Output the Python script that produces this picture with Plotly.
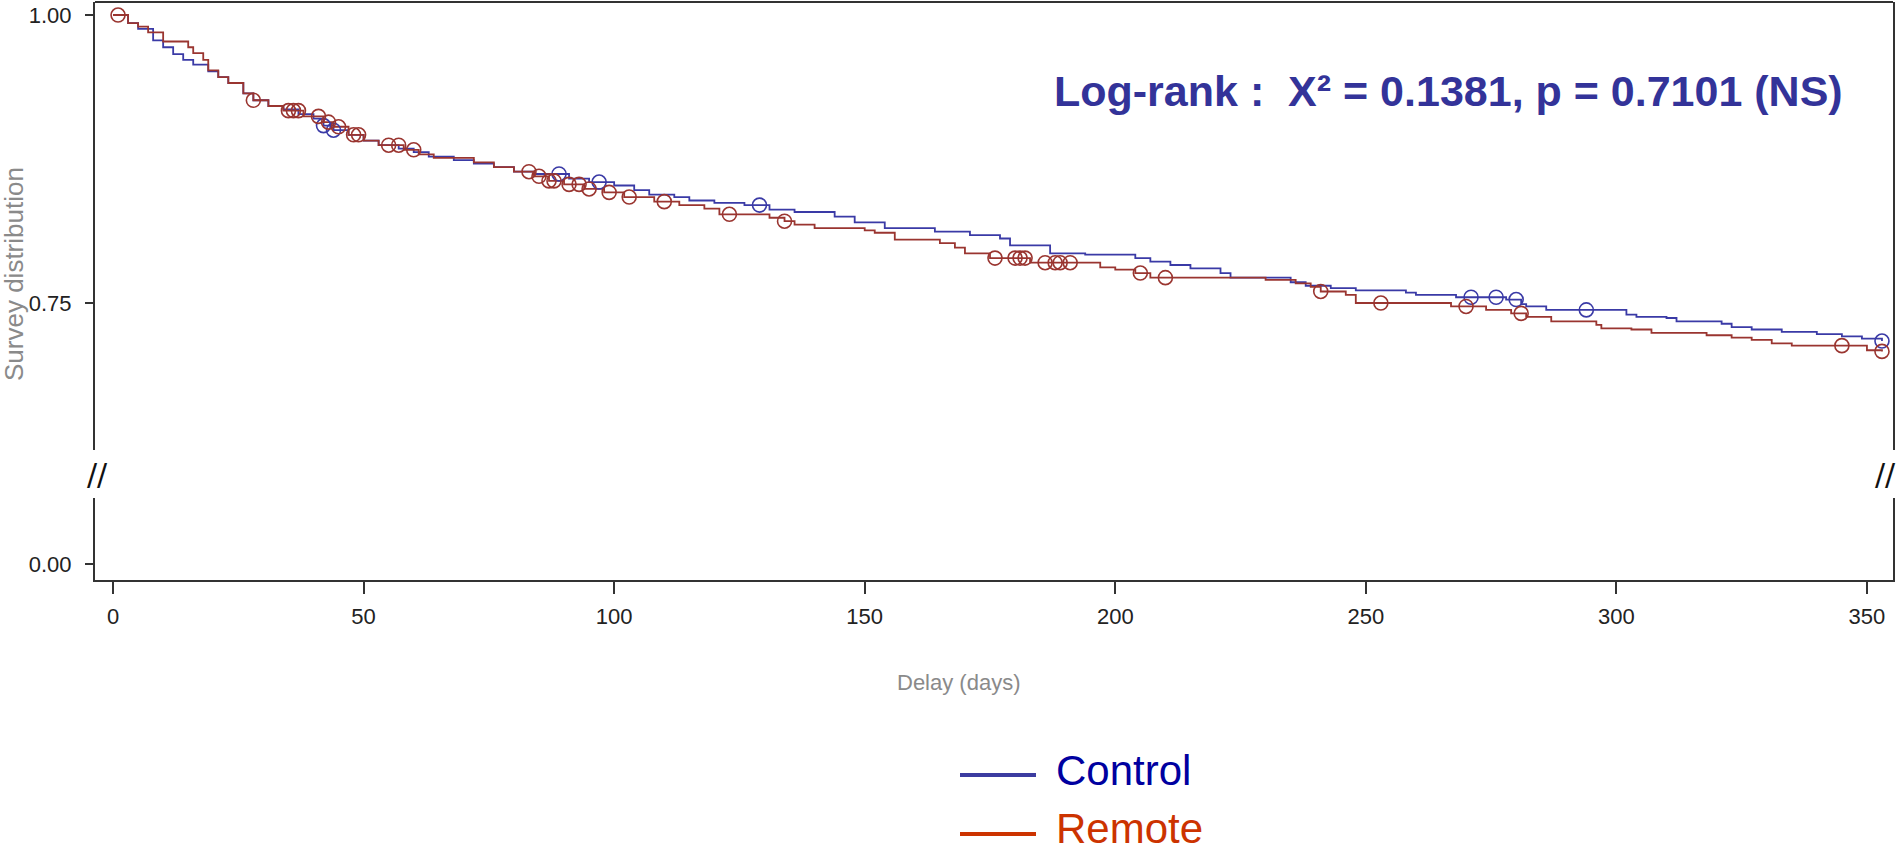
import numpy as np
import plotly.graph_objects as go

# ---------------- data ----------------
control_t = [0, 3, 5, 8, 10, 12, 14, 16, 19, 21, 23, 26, 28, 31, 34, 37, 40, 42, 44, 47, 50, 53, 57,
             60, 63, 68, 72, 76, 80, 84, 91, 95, 100, 104, 107, 112, 115, 120, 126, 131, 136, 144,
             148, 154, 164, 171, 177, 179, 187, 194, 204, 207, 211, 215, 221, 223, 235, 238, 243,
             248, 258, 260, 268, 278, 281, 282, 286, 302, 304, 310, 312, 321, 323, 327, 333, 340,
             345, 349, 353]
control_s = [1.000, 0.993, 0.988, 0.978, 0.972, 0.966, 0.961, 0.957, 0.951, 0.946, 0.941, 0.932,
             0.926, 0.921, 0.918, 0.914, 0.910, 0.904, 0.900, 0.896, 0.891, 0.887, 0.884, 0.881,
             0.877, 0.874, 0.871, 0.868, 0.864, 0.862, 0.858, 0.855, 0.852, 0.848, 0.844, 0.842,
             0.839, 0.837, 0.835, 0.831, 0.829, 0.825, 0.820, 0.815, 0.812, 0.809, 0.806, 0.800,
             0.793, 0.792, 0.789, 0.786, 0.783, 0.780, 0.776, 0.772, 0.768, 0.765, 0.763, 0.761,
             0.759, 0.757, 0.755, 0.753, 0.749, 0.747, 0.744, 0.740, 0.738, 0.737, 0.734, 0.732,
             0.729, 0.727, 0.725, 0.723, 0.721, 0.719, 0.717]
control_cens = [42, 44, 89, 97, 129, 271, 276, 280, 294, 353]

remote_t = [0, 3, 5, 7, 10, 15, 16, 18, 19, 21, 23, 26, 28, 31, 34, 38, 42, 44, 47, 50, 53, 58,
            61, 64, 72, 76, 80, 84, 87, 90, 94, 98, 102, 108, 113, 118, 121, 131, 134, 136, 140,
            150, 152, 156, 165, 168, 170, 175, 183, 197, 200, 204, 207, 230, 236, 239, 241, 246,
            248, 267, 274, 279, 282, 287, 296, 297, 303, 307, 318, 323, 327, 331, 335, 350, 353]
remote_s = [1.000, 0.993, 0.990, 0.985, 0.977, 0.972, 0.967, 0.961, 0.952, 0.946, 0.941, 0.932,
            0.926, 0.921, 0.917, 0.912, 0.907, 0.903, 0.896, 0.891, 0.887, 0.883, 0.879, 0.876,
            0.872, 0.868, 0.864, 0.860, 0.856, 0.853, 0.849, 0.846, 0.842, 0.838, 0.835, 0.832,
            0.827, 0.824, 0.821, 0.818, 0.815, 0.813, 0.811, 0.805, 0.802, 0.798, 0.793, 0.789,
            0.785, 0.781, 0.779, 0.776, 0.772, 0.770, 0.767, 0.764, 0.760, 0.757, 0.750, 0.747,
            0.744, 0.741, 0.738, 0.734, 0.731, 0.728, 0.727, 0.724, 0.722, 0.720, 0.718, 0.715,
            0.713, 0.709, 0.708]
remote_cens = [1, 28, 35, 36, 37, 41, 43, 45, 48, 49, 55, 57, 60, 83, 85, 87, 88, 91, 93, 95, 99,
               103, 110, 123, 134, 176, 180, 181, 182, 186, 188, 189, 191, 205, 210, 241, 253,
               270, 281, 345, 353]

x_ticks = [0, 50, 100, 150, 200, 250, 300, 350]
y_ticks_top = [0.75, 1.00]
y_ticks_bottom = [0.00]
groups = ["Control", "Remote"]
stat_text = "Log-rank :  X\u00b2 = 0.1381, p = 0.7101 (NS)"


def surv_at(times, surv, pts):
    t = np.asarray(times)
    s = np.asarray(surv)
    idx = np.searchsorted(t, np.asarray(pts), side="right") - 1
    return s[np.clip(idx, 0, len(s) - 1)]


BLUE_LINE = "#3a3aa6"
RED_LINE = "#9a3530"
AXIS = "#333333"
TICKFONT = dict(family="Liberation Sans, Arial", size=22, color="#222222")

fig = go.Figure()

fig.add_trace(go.Scatter(x=control_t, y=control_s, mode="lines", line_shape="hv",
                         line=dict(color=BLUE_LINE, width=1.8), showlegend=False,
                         xaxis="x", yaxis="y"))
fig.add_trace(go.Scatter(x=remote_t, y=remote_s, mode="lines", line_shape="hv",
                         line=dict(color=RED_LINE, width=1.8), showlegend=False,
                         xaxis="x", yaxis="y"))
fig.add_trace(go.Scatter(x=control_cens, y=surv_at(control_t, control_s, control_cens),
                         mode="markers",
                         marker=dict(symbol="circle-open", size=14, color=BLUE_LINE,
                                     line=dict(width=1.6, color=BLUE_LINE)),
                         showlegend=False, xaxis="x", yaxis="y"))
fig.add_trace(go.Scatter(x=remote_cens, y=surv_at(remote_t, remote_s, remote_cens),
                         mode="markers",
                         marker=dict(symbol="circle-open", size=14, color=RED_LINE,
                                     line=dict(width=1.6, color=RED_LINE)),
                         showlegend=False, xaxis="x", yaxis="y"))
# empty trace so the lower (broken) panel exists
fig.add_trace(go.Scatter(x=[], y=[], xaxis="x", yaxis="y2", showlegend=False))

W, H = 1899, 846
ml, mr, mt, mb = 95, 6, 2, 266
ph = H - mt - mb  # 578


def py(ypix):
    return (H - mb - ypix) / ph


def px(xpix):
    return (xpix - ml) / (W - ml - mr)


fig.update_layout(
    width=W, height=H,
    margin=dict(l=ml, r=mr, t=mt, b=mb, pad=0),
    paper_bgcolor="white", plot_bgcolor="white",
    showlegend=False,
    xaxis=dict(range=[-3.6, 355.2], tickvals=x_ticks, ticktext=[str(v) for v in x_ticks],
               anchor="y2", showline=True, linecolor=AXIS, linewidth=2,
               ticks="outside", ticklen=12, tickwidth=1.5, tickcolor=AXIS,
               tickfont=TICKFONT, ticklabelstandoff=4, showgrid=False, zeroline=False),
    yaxis=dict(domain=[py(450), 1], range=[0.6224, 1.0113], tickvals=y_ticks_top,
               ticktext=["%.2f" % v for v in y_ticks_top],
               showline=True, mirror=True, linecolor=AXIS, linewidth=2,
               ticks="outside", ticklen=8, tickwidth=1.5, tickcolor=AXIS,
               tickfont=TICKFONT, ticklabelstandoff=9, showgrid=False, zeroline=False,
               anchor="x"),
    yaxis2=dict(domain=[0, py(498)], range=[-0.0139, 0.0573], tickvals=y_ticks_bottom,
                ticktext=["%.2f" % v for v in y_ticks_bottom],
                showline=True, mirror=True, linecolor=AXIS, linewidth=2,
                ticks="outside", ticklen=8, tickwidth=1.5, tickcolor=AXIS,
                tickfont=TICKFONT, ticklabelstandoff=9, showgrid=False, zeroline=False,
                anchor="x"),
)

shapes = [
    # top border of the frame
    dict(type="line", xref="paper", yref="paper", x0=0, x1=1, y0=1, y1=1,
         line=dict(color=AXIS, width=2)),
    # legend line samples
    dict(type="line", xref="paper", yref="paper", x0=px(960), x1=px(1036), y0=py(775), y1=py(775),
         line=dict(color="#3c3ca0", width=4)),
    dict(type="line", xref="paper", yref="paper", x0=px(960), x1=px(1036), y0=py(834), y1=py(834),
         line=dict(color="#cc3300", width=4)),
]
fig.update_layout(shapes=shapes)

BREAK_FONT = dict(family="DejaVu Sans, Liberation Sans", size=30, color="#111111")
ann = [
    dict(text=stat_text, xref="paper", yref="paper", x=px(1448), y=py(91), showarrow=False,
         xanchor="center", yanchor="middle",
         font=dict(family="Liberation Sans, Arial", size=43, color="#333399", weight="bold")),
    dict(text=groups[0], xref="paper", yref="paper", x=px(1054), y=py(770), showarrow=False,
         xanchor="left", yanchor="middle",
         font=dict(family="Liberation Sans, Arial", size=42, color="#0000a0")),
    dict(text=groups[1], xref="paper", yref="paper", x=px(1054), y=py(828), showarrow=False,
         xanchor="left", yanchor="middle",
         font=dict(family="Liberation Sans, Arial", size=42, color="#cc3300")),
    dict(text="Delay (days)", xref="paper", yref="paper", x=px(958), y=py(682), showarrow=False,
         xanchor="center", yanchor="middle",
         font=dict(family="Liberation Sans, Arial", size=22, color="#8a8a8a")),
    dict(text="Survey distribution", xref="paper", yref="paper", x=px(14), y=py(274),
         showarrow=False, textangle=-90, xanchor="center", yanchor="middle",
         font=dict(family="Liberation Sans, Arial", size=26, color="#8a8a8a")),
    dict(text="//", xref="paper", yref="paper", x=px(97), y=py(474), showarrow=False,
         xanchor="center", yanchor="middle", font=BREAK_FONT),
    dict(text="//", xref="paper", yref="paper", x=px(1898), y=py(474), showarrow=False,
         xanchor="right", yanchor="middle", font=BREAK_FONT),
]
fig.update_layout(annotations=ann)

fig.write_html("out.html", config={"displayModeBar": False},
               post_script="document.body.style.margin='0';document.body.style.overflow='hidden';")
